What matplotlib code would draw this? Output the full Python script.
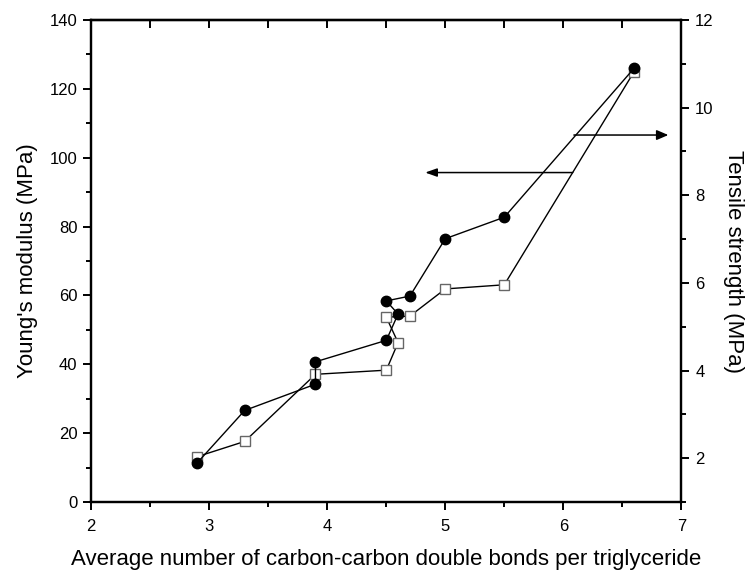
import matplotlib
matplotlib.use("Agg")
import matplotlib.pyplot as plt
from matplotlib.ticker import MultipleLocator, NullFormatter

plt.rcParams['font.family'] = ['Liberation Sans', 'DejaVu Sans']

# Young's modulus (open squares, left axis)
ym_x = [2.9, 3.3, 3.9, 4.5, 4.6, 4.5, 4.7, 5.0, 5.5, 6.6]
ym_y = [13.2, 17.6, 37.1, 38.3, 46.3, 53.7, 54.0, 61.9, 63.1, 125.0]

# Tensile strength (filled circles, right axis)
ts_x = [2.9, 3.3, 3.9, 3.9, 4.5, 4.6, 4.5, 4.7, 5.0, 5.5, 6.6]
ts_y = [1.90, 3.09, 3.69, 4.20, 4.69, 5.29, 5.59, 5.70, 7.01, 7.50, 10.90]

x_ticks = [2, 3, 4, 5, 6, 7]
left_ticks = [0, 20, 40, 60, 80, 100, 120, 140]
right_ticks = [2, 4, 6, 8, 10, 12]

fig = plt.figure(figsize=(7.5, 5.71), dpi=100)
ax = fig.add_axes([0.1217, 0.1208, 0.7867, 0.8441])
ax2 = ax.twinx()

ax.plot(ym_x, ym_y, color='black', lw=1.0, marker='s', ms=6.5,
        mfc='white', mec='#666666', mew=1.0, zorder=3, clip_on=False)
ax2.plot(ts_x, ts_y, color='black', lw=1.0, marker='o', ms=7.5,
         mfc='black', mec='black', zorder=3, clip_on=False)

ax.set_xlim(2, 7)
ax.set_ylim(0, 140)
ax2.set_ylim(1, 12)

ax.set_xticks(x_ticks)
ax.xaxis.set_minor_locator(MultipleLocator(0.5))
ax.set_yticks(left_ticks)
ax.yaxis.set_minor_locator(MultipleLocator(10))
ax2.set_yticks(right_ticks)
ax2.yaxis.set_minor_locator(MultipleLocator(1))

for a in (ax, ax2):
    for s in a.spines.values():
        s.set_linewidth(1.6)

ax.tick_params(axis='both', which='major', direction='out', length=6, width=1.4,
               labelsize=12, pad=4)
ax.tick_params(axis='both', which='minor', direction='out', length=3.5, width=1.4)
ax.tick_params(axis='x', which='major', pad=6)
ax2.tick_params(axis='y', which='major', direction='out', length=6, width=1.4,
                labelsize=12, pad=4)
ax2.tick_params(axis='y', which='minor', direction='out', length=3.5, width=1.4)

top = ax.secondary_xaxis('top')
top.set_xticks([2, 2.5, 3, 3.5, 4, 4.5, 5, 5.5, 6, 6.5, 7])
top.xaxis.set_major_formatter(NullFormatter())
top.tick_params(axis='x', direction='in', length=6, width=1.4)
top.spines['top'].set_linewidth(1.6)

ax.set_xlabel('Average number of carbon-carbon double bonds per triglyceride',
              fontsize=16, labelpad=11)
ax.set_ylabel("Young's modulus (MPa)", fontsize=16, labelpad=8)
ax2.set_ylabel('Tensile strength (MPa)', fontsize=16, rotation=270, labelpad=22)

# arrows indicating which axis each series belongs to
ax.annotate('', xy=(4.83, 95.7), xytext=(6.08, 95.7),
            arrowprops=dict(arrowstyle='-|>,head_length=0.7,head_width=0.25',
                            color='black', lw=1.1, shrinkA=0, shrinkB=0))
ax.annotate('', xy=(6.89, 106.6), xytext=(6.09, 106.6),
            arrowprops=dict(arrowstyle='-|>,head_length=0.7,head_width=0.3',
                            color='black', lw=1.1, shrinkA=0, shrinkB=0))

fig.savefig('out.png', dpi=100)
